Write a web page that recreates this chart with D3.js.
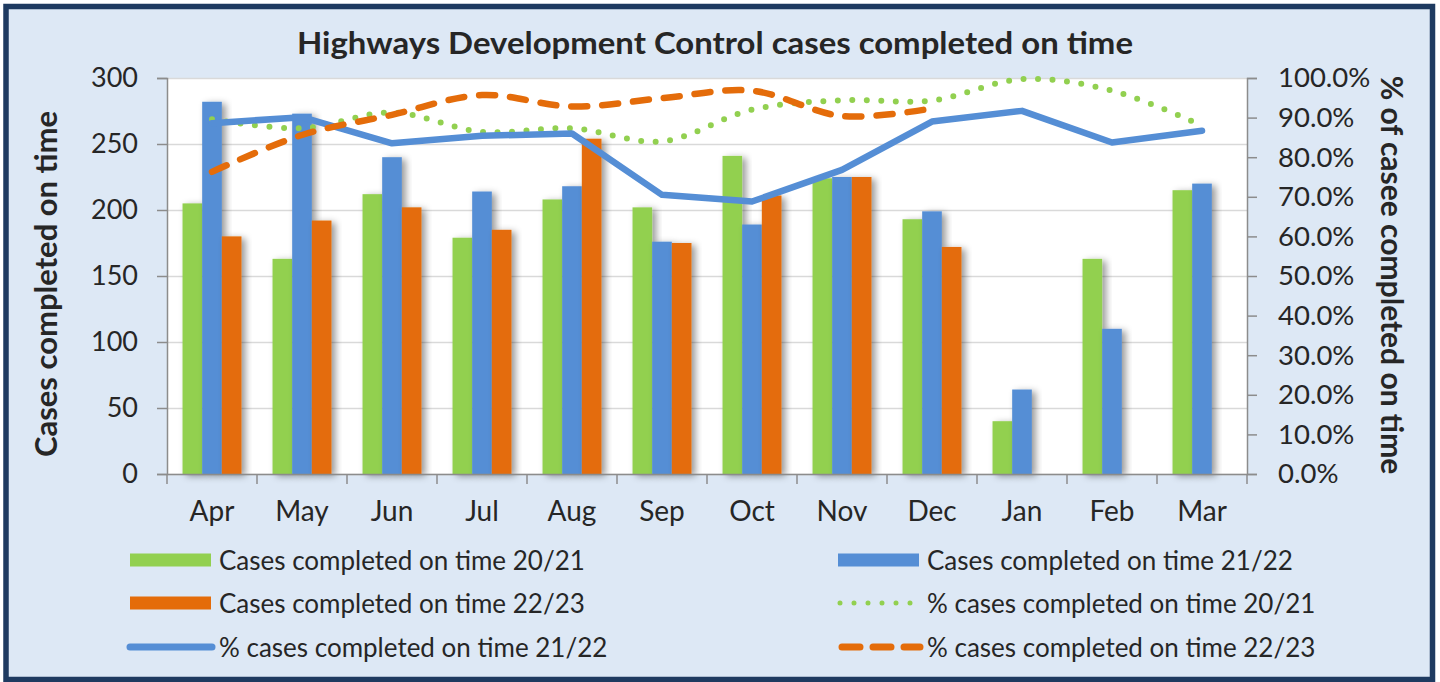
<!DOCTYPE html>
<html>
<head>
<meta charset="utf-8">
<script src="https://cdn.jsdelivr.net/npm/d3@7"></script>
<style>
  body { margin: 0; background: #fff; }
  text { font-family: Lato, "Open Sans", sans-serif; fill: #262626; }
</style>
</head>
<body>
<div id="chart"></div>
<script>
// data
var months = ["Apr", "May", "Jun", "Jul", "Aug", "Sep", "Oct", "Nov", "Dec", "Jan", "Feb", "Mar"];
var cases2021 = [205, 163, 212, 179, 208, 202, 241, 224, 193, 40, 163, 215];
var cases2122 = [282, 273, 240, 214, 218, 176, 189, 225, 199, 64, 110, 220];
var cases2223 = [180, 192, 202, 185, 254, 175, 211, 225, 172, null, null, null];
var pct2021 = [89.6, 87.3, 91.3, 86.4, 87.3, 84.0, 92.0, 94.4, 94.3, 99.7, 96.8, 88.0];
var pct2122 = [88.6, 90.1, 83.5, 85.4, 86.0, 70.5, 68.8, 76.8, 89.0, 91.7, 83.7, 86.7];
var pct2223 = [76.3, 85.6, 90.7, 95.7, 92.8, 94.9, 96.8, 90.4, 92.3, null, null, null];
var leftTicks = [0, 50, 100, 150, 200, 250, 300];
var rightTicks = [0, 10, 20, 30, 40, 50, 60, 70, 80, 90, 100];

var green = "#92d050", blue = "#558ed5", orange = "#e46c0a";

var W = 1440, H = 682;
var margin = {top: 78, right: 193, bottom: 208, left: 167},
    width = W - margin.left - margin.right,
    height = H - margin.top - margin.bottom;

var svg = d3.select("#chart")
  .append("svg")
    .attr("width", W)
    .attr("height", H);

// bar shadow
var defs = svg.append("defs");
var f = defs.append("filter").attr("id", "shadow")
  .attr("x", "-30%").attr("y", "-10%").attr("width", "180%").attr("height", "130%");
f.append("feDropShadow")
  .attr("dx", 4).attr("dy", 2).attr("stdDeviation", 3.5)
  .attr("flood-color", "#000").attr("flood-opacity", 0.4);

// frame
svg.append("rect")
  .attr("x", 6).attr("y", 6.5)
  .attr("width", 1426.5).attr("height", 673)
  .attr("fill", "#dde8f5")
  .attr("stroke", "#1e3a60")
  .attr("stroke-width", 5.5);

var g = svg.append("g")
  .attr("transform", "translate(" + margin.left + "," + margin.top + ")");

g.append("rect")
  .attr("width", width).attr("height", height)
  .attr("fill", "#fff");

// scales
var x = d3.scaleBand().domain(months).range([0, width]);
var x1 = d3.scaleBand().domain([0, 1, 2]).range([0, x.bandwidth()])
  .paddingInner(0).paddingOuter(0.79);
var y = d3.scaleLinear().domain([0, 300]).range([height, 0]);
var y2 = d3.scaleLinear().domain([0, 100]).range([height, 0]);

// gridlines
g.append("g")
  .attr("class", "grid")
  .call(d3.axisLeft(y).tickValues(leftTicks).tickSize(-width).tickFormat(""))
  .call(function(s) {
    s.select(".domain").remove();
    s.selectAll("line").attr("stroke", "#d9d9d9").attr("stroke-width", 1.3);
  });

// bars
var series = [
  {vals: cases2021, color: green},
  {vals: cases2122, color: blue},
  {vals: cases2223, color: orange}
];
series.forEach(function(s, i) {
  g.selectAll(".bar" + i)
    .data(months.map(function(m, j) { return {m: m, v: s.vals[j]}; })
      .filter(function(d) { return d.v != null; }))
    .enter()
    .append("rect")
      .attr("x", function(d) { return x(d.m) + x1(i); })
      .attr("y", function(d) { return y(d.v); })
      .attr("width", x1.bandwidth())
      .attr("height", function(d) { return height - y(d.v); })
      .attr("fill", s.color)
      .attr("filter", "url(#shadow)");
});

// lines
function lineFor(vals, curve) {
  return d3.line()
    .defined(function(d) { return d.v != null; })
    .x(function(d) { return x(d.m) + x.bandwidth() / 2; })
    .y(function(d) { return y2(d.v); })
    .curve(curve)(months.map(function(m, j) { return {m: m, v: vals[j]}; }));
}

g.append("path")
  .attr("d", lineFor(pct2021, d3.curveCatmullRom.alpha(0.5)))
  .attr("fill", "none")
  .attr("stroke", green)
  .attr("stroke-width", 6)
  .attr("stroke-linecap", "round")
  .attr("stroke-dasharray", "0 14.5");

g.append("path")
  .attr("d", lineFor(pct2122, d3.curveLinear))
  .attr("fill", "none")
  .attr("stroke", blue)
  .attr("stroke-width", 6.5)
  .attr("stroke-linejoin", "round")
  .attr("stroke-linecap", "round");

g.append("path")
  .attr("d", lineFor(pct2223, d3.curveCatmullRom.alpha(0.5)))
  .attr("fill", "none")
  .attr("stroke", orange)
  .attr("stroke-width", 6.5)
  .attr("stroke-linecap", "round")
  .attr("stroke-dasharray", "16 15");

// axes
var axisColor = "#8c8c8c";

g.append("g")
  .call(d3.axisLeft(y).tickValues(leftTicks).tickSize(10).tickPadding(19))
  .call(function(s) {
    s.select(".domain").attr("stroke", axisColor).attr("stroke-width", 1.5);
    s.selectAll("line").attr("stroke", axisColor).attr("stroke-width", 1.5);
    s.selectAll("text").style("font-size", "27px").attr("fill", "#262626");
  });

g.append("g")
  .attr("transform", "translate(" + width + ",0)")
  .call(d3.axisRight(y2).tickValues(rightTicks).tickSize(10).tickPadding(21)
    .tickFormat(function(d) { return d.toFixed(1) + "%"; }))
  .call(function(s) {
    s.select(".domain").attr("stroke", axisColor).attr("stroke-width", 1.5);
    s.selectAll("line").attr("stroke", axisColor).attr("stroke-width", 1.5);
    s.selectAll("text").style("font-size", "27.5px").attr("fill", "#262626");
  });

g.append("g")
  .attr("transform", "translate(0," + height + ")")
  .call(d3.axisBottom(x).tickSize(0).tickPadding(27))
  .call(function(s) {
    s.select(".domain").attr("stroke", axisColor).attr("stroke-width", 1.5);
    s.selectAll("text").style("font-size", "28px").attr("fill", "#262626");
  });

// category separators on the x axis
g.selectAll(".xtick")
  .data(months.concat(["end"]))
  .enter()
  .append("line")
    .attr("x1", function(d) { return d == "end" ? width : x(d); })
    .attr("x2", function(d) { return d == "end" ? width : x(d); })
    .attr("y1", height)
    .attr("y2", height + 10)
    .attr("stroke", axisColor)
    .attr("stroke-width", 1.5);

// titles
svg.append("text")
  .attr("x", 715).attr("y", 54)
  .attr("text-anchor", "middle")
  .attr("textLength", 836)
  .attr("lengthAdjust", "spacingAndGlyphs")
  .style("font-size", "30px").style("font-weight", "bold")
  .attr("fill", "#000")
  .text("Highways Development  Control cases completed on time");

svg.append("text")
  .attr("transform", "translate(45,284) rotate(-90)")
  .attr("text-anchor", "middle")
  .attr("dominant-baseline", "central")
  .style("font-size", "31px").style("font-weight", "bold")
  .attr("fill", "#000")
  .text("Cases completed on time");

svg.append("text")
  .attr("transform", "translate(1393,275) rotate(90)")
  .attr("text-anchor", "middle")
  .attr("dominant-baseline", "central")
  .style("font-size", "30px").style("font-weight", "bold")
  .attr("fill", "#000")
  .text("% of casee completed on time");

// legend
var legendItems = [
  {label: "Cases completed on time 20/21", type: "bar", color: green, col: 0, row: 0},
  {label: "Cases completed on time 21/22", type: "bar", color: blue, col: 1, row: 0},
  {label: "Cases completed on time 22/23", type: "bar", color: orange, col: 0, row: 1},
  {label: "% cases completed on time 20/21", type: "dot", color: green, col: 1, row: 1},
  {label: "% cases completed on time 21/22", type: "line", color: blue, col: 0, row: 2},
  {label: "% cases completed on time 22/23", type: "dash", color: orange, col: 1, row: 2}
];
var colX = [130, 838], rowY = [560, 603, 647];

var lg = svg.selectAll(".legend")
  .data(legendItems)
  .enter()
  .append("g")
    .attr("transform", function(d) { return "translate(" + colX[d.col] + "," + rowY[d.row] + ")"; });

lg.each(function(d) {
  var s = d3.select(this);
  if (d.type == "bar") {
    s.append("rect").attr("x", 0).attr("y", -6.5).attr("width", 81).attr("height", 13).attr("fill", d.color);
  } else {
    var l = s.append("line").attr("x1", 0).attr("x2", 82).attr("y1", 0).attr("y2", 0)
      .attr("stroke", d.color).attr("stroke-linecap", "round");
    if (d.type == "line") l.attr("stroke-width", 7);
    if (d.type == "dot") l.attr("stroke-width", 5).attr("stroke-dasharray", "0 14").attr("x1", 2);
    if (d.type == "dash") l.attr("stroke-width", 7).attr("stroke-dasharray", "18 13").attr("x1", 4);
  }
  s.append("text")
    .attr("x", 89).attr("y", 0)
    .attr("dominant-baseline", "central")
    .style("font-size", "26px")
    .text(d.label);
});
</script>
</body>
</html>
